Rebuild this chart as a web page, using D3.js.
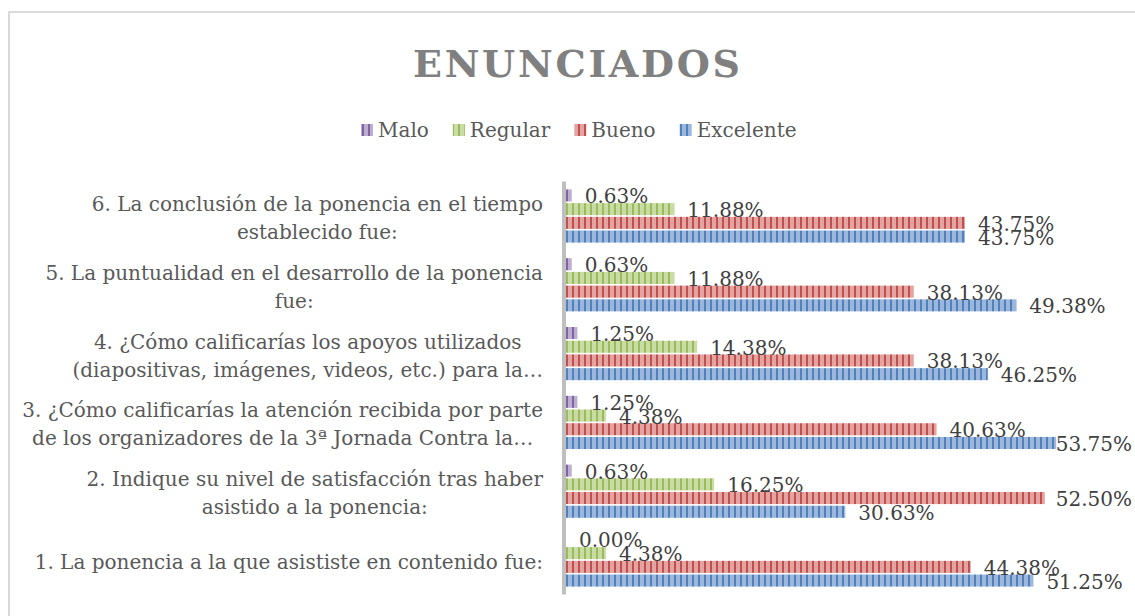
<!DOCTYPE html>
<html lang="es">
<head>
    <meta charset="UTF-8">
    <title>Enunciados</title>
    <script src="https://d3js.org/d3.v7.min.js"></script>
    <style>
        body { margin: 0; background: #fff; }
        svg { display: block; font-family: 'DejaVu Serif', serif; }
    </style>
</head>
<body>
    <div id="chart"></div>
    <script>
        // Data (percentages)
        var categories = [
            "1. La ponencia a la que asististe en contenido fue:",
            "2. Indique su nivel de satisfacción tras haber\nasistido a la ponencia:",
            "3. ¿Cómo calificarías la atención recibida por parte\nde los organizadores de la 3ª Jornada Contra la…",
            "4. ¿Cómo calificarías los apoyos utilizados\n(diapositivas, imágenes, videos, etc.) para la…",
            "5. La puntualidad en el desarrollo de la ponencia\nfue:",
            "6. La conclusión de la ponencia en el tiempo\nestablecido fue:"
        ];
        var seriesNames = ["Malo", "Regular", "Bueno", "Excelente"];
        var malo      = [0.00, 0.63, 1.25, 1.25, 0.63, 0.63];
        var regular   = [4.38, 16.25, 4.38, 14.38, 11.88, 11.88];
        var bueno     = [44.38, 52.50, 40.63, 38.13, 38.13, 43.75];
        var excelente = [51.25, 30.63, 53.75, 46.25, 49.38, 43.75];

        var seriesValues = [malo, regular, bueno, excelente];
        var darkColors  = ["#8064a2", "#9bbb59", "#c0504d", "#4f81bd"];
        var lightColors = ["#bcaed0", "#c9dca5", "#e3a3a1", "#9cb6dc"];

        var width = 1135, height = 616;

        var svg = d3.select('#chart').append('svg')
            .attr('width', width)
            .attr('height', height);

        // striped fills
        var defs = svg.append('defs');
        seriesNames.forEach(function(name, i) {
            var p = defs.append('pattern')
                .attr('id', 'stripe' + i)
                .attr('patternUnits', 'userSpaceOnUse')
                .attr('width', 6)
                .attr('height', 6);
            p.append('rect').attr('width', 6).attr('height', 6).attr('fill', lightColors[i]);
            p.append('rect').attr('x', 2).attr('width', 2).attr('height', 6).attr('fill', darkColors[i]);
        });

        // chart border
        svg.append('rect')
            .attr('x', 9).attr('y', 12)
            .attr('width', width).attr('height', height)
            .attr('fill', 'none')
            .attr('stroke', '#d9d9d9')
            .attr('stroke-width', 2);

        // title
        svg.append('text')
            .attr('x', 413)
            .attr('y', 77)
            .attr('textLength', 327)
            .attr('lengthAdjust', 'spacing')
            .style('font-size', '38px')
            .style('font-weight', 'bold')
            .attr('fill', '#808080')
            .text('ENUNCIADOS');

        // legend
        var legend = svg.append('g').attr('transform', 'translate(0,130)');
        var lx = 361;
        seriesNames.forEach(function(name, i) {
            legend.append('rect')
                .attr('x', lx).attr('y', -6)
                .attr('width', 12).attr('height', 12)
                .attr('fill', 'url(#stripe' + i + ')');
            var t = legend.append('text')
                .attr('x', lx + 17)
                .attr('dy', '0.35em')
                .attr('fill', '#595959')
                .style('font-size', '20px')
                .text(name);
            lx += 17 + t.node().getComputedTextLength() + 24;
        });

        // scales
        var x = d3.scaleLinear()
            .domain([0, 60])
            .range([566, 566 + 547.2]);

        var y = d3.scaleBand()
            .domain(categories.slice().reverse())
            .range([181.6, 594.4])
            .paddingInner(0.227)
            .paddingOuter(0.1135);

        var ySub = d3.scaleBand()
            .domain(seriesNames)
            .range([0, y.bandwidth()])
            .paddingInner(0.12);

        var rows = categories.map(function(c, ci) {
            return { cat: c, vals: seriesNames.map(function(s, si) {
                return { name: s, idx: si, value: seriesValues[si][ci] };
            }) };
        });

        // category labels: block right-aligned, lines centred within it
        var labels = svg.append('g');
        rows.forEach(function(r) {
            var lines = r.cat.split('\n');
            var cy = y(r.cat) + y.bandwidth() / 2;
            var lh = 28;
            var t = labels.append('text')
                .attr('text-anchor', 'middle')
                .attr('fill', '#595959')
                .style('font-size', '20px');
            var spans = lines.map(function(line, k) {
                return t.append('tspan')
                    .attr('y', cy + (k - (lines.length - 1) / 2) * lh + 2)
                    .attr('dy', '0.35em')
                    .text(line);
            });
            var w = d3.max(spans, function(s) { return s.node().getComputedTextLength(); });
            spans.forEach(function(s) { s.attr('x', 543 - w / 2); });
        });

        // bars
        var groups = svg.selectAll('.grp')
            .data(rows)
            .enter().append('g')
            .attr('class', 'grp')
            .attr('transform', function(d) { return 'translate(0,' + y(d.cat) + ')'; });

        groups.selectAll('rect')
            .data(function(d) { return d.vals; })
            .enter().append('rect')
            .attr('x', x(0))
            .attr('y', function(d) { return ySub(d.name); })
            .attr('width', function(d) { return x(d.value) - x(0); })
            .attr('height', ySub.bandwidth())
            .attr('fill', function(d) { return 'url(#stripe' + d.idx + ')'; });

        groups.selectAll('text')
            .data(function(d) { return d.vals; })
            .enter().append('text')
            .attr('y', function(d) { return ySub(d.name) + ySub.bandwidth() / 2 + 1; })
            .attr('dy', '0.35em')
            .attr('fill', '#404040')
            .style('font-size', '20px')
            .text(function(d) { return d.value.toFixed(2) + '%'; })
            .attr('x', function(d) {
                var tw = this.getComputedTextLength();
                return Math.min(x(d.value) + 13, width - 3 - tw);
            });

        // category axis line
        svg.append('line')
            .attr('x1', 564).attr('x2', 564)
            .attr('y1', y.range()[0]).attr('y2', y.range()[1])
            .attr('stroke', '#bfbfbf')
            .attr('stroke-width', 4);
    </script>
</body>
</html>
